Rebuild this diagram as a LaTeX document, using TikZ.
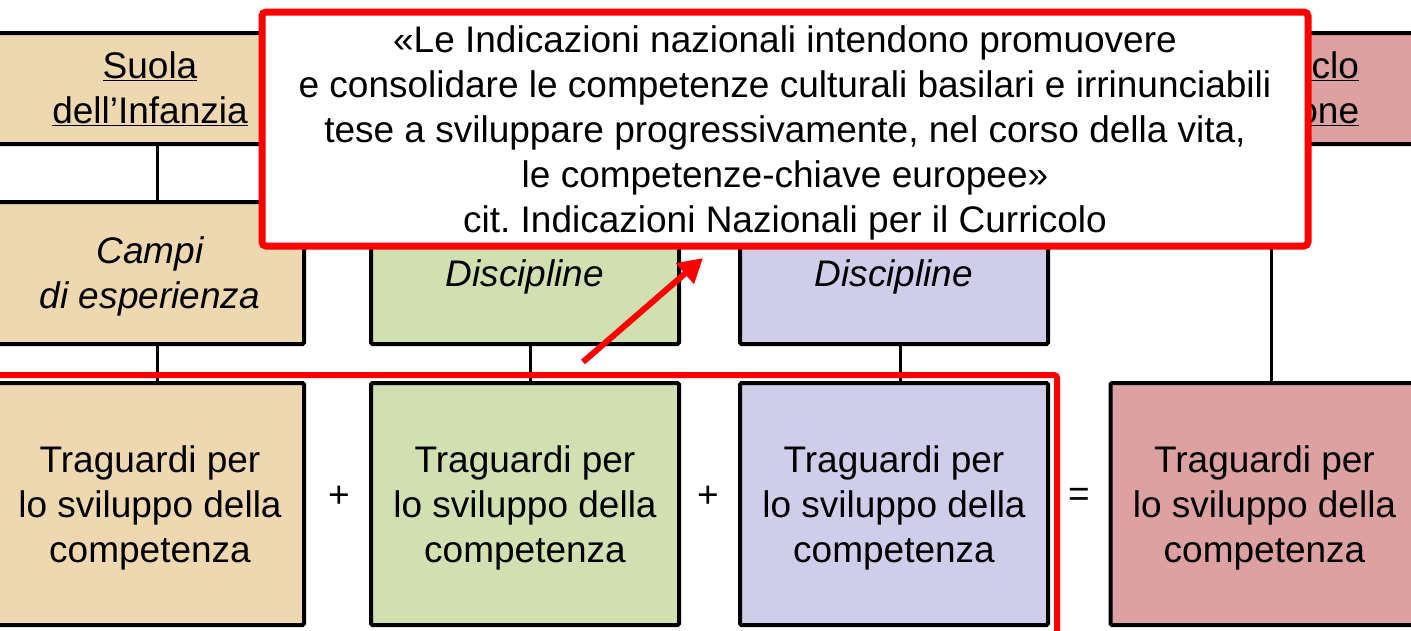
\documentclass[tikz,border=0pt]{standalone}
\usepackage{fontspec}
\setmainfont{Liberation Sans}
\usetikzlibrary{arrows.meta}
\definecolor{infanzia}{RGB}{238,216,176}
\definecolor{primaria}{RGB}{209,224,176}
\definecolor{secondaria}{RGB}{208,205,235}
\definecolor{ciclo}{RGB}{222,161,161}

\begin{document}
\begin{tikzpicture}[x=1pt,y=-1pt,
  font=\fontsize{37}{45}\selectfont,
  box/.style={draw,line width=4pt,rounded corners=1.5pt,align=center,minimum width=308pt},
  hdr/.style={box,minimum height=111pt},
  ital/.style={box,minimum height=142pt,font=\fontsize{37}{45}\selectfont\itshape},
  trg/.style={box,minimum height=242pt,text depth=-6pt},
  link/.style={line width=3pt},
  redline/.style={draw=red,line width=6pt}]
  \path[use as bounding box,clip] (0,0) rectangle (1411,630);

  \node[hdr,fill=infanzia] (hdrInf) at (150,88.5) {\underline{Suola}\\\underline{dell’Infanzia}};
  \node[hdr,fill=ciclo] (hdrPrimo) at (1264.5,88.5) {\underline{Primo Ciclo}\\\underline{d’Istruzione}};

  \node[ital,fill=infanzia,text depth=0pt] (campi) at (150,273) {Campi\\di esperienza};
  \node[ital,fill=primaria,text height=35pt] (discA) at (525,273) {Discipline};
  \node[ital,fill=secondaria,text height=35pt] (discB) at (894,273) {Discipline};

  \node[trg,fill=infanzia] (trgA) at (150,504) {Traguardi per\\lo sviluppo della\\competenza};
  \node[trg,fill=primaria] (trgB) at (525,504) {Traguardi per\\lo sviluppo della\\competenza};
  \node[trg,fill=secondaria] (trgC) at (894,504) {Traguardi per\\lo sviluppo della\\competenza};
  \node[trg,fill=ciclo] (trgD) at (1264.5,504) {Traguardi per\\lo sviluppo della\\competenza};

  \node (plusA) at (339,497) {+};
  \node (plusB) at (708,497) {+};
  \node (eq) at (1079,497) {=};

  \draw[link] ([xshift=7pt]hdrInf.south) -- ([xshift=7pt]campi.north);
  \draw[link] ([xshift=7pt]campi.south) -- ([xshift=7pt]trgA.north);
  \draw[link] ([xshift=5pt]discA.south) -- ([xshift=5pt]trgB.north);
  \draw[link] ([xshift=6pt]discB.south) -- ([xshift=6pt]trgC.north);
  \draw[link] ([xshift=7pt]hdrPrimo.south) -- ([xshift=7pt]trgD.north);

  \draw[redline,rounded corners=3pt] (-10,375) -- (1057,375) -- (1057,640);
  \coordinate (tail) at (583,362);
  \coordinate (tip) at (703,258);
  \draw[redline,-{Triangle[length=24pt,width=26pt]}] (tail) -- (tip);

  \node[draw=red,line width=7pt,fill=white,rounded corners=4pt,align=center,
    minimum width=1046pt,minimum height=234pt,text depth=-4pt] (quote) at (785,129)
    {«Le Indicazioni nazionali intendono promuovere\\
     e consolidare le competenze culturali basilari e irrinunciabili\\
     tese a sviluppare progressivamente, nel corso della vita,\\
     le competenze-chiave europee»\\
     cit.\ Indicazioni Nazionali per il Curricolo};
\end{tikzpicture}
\end{document}
